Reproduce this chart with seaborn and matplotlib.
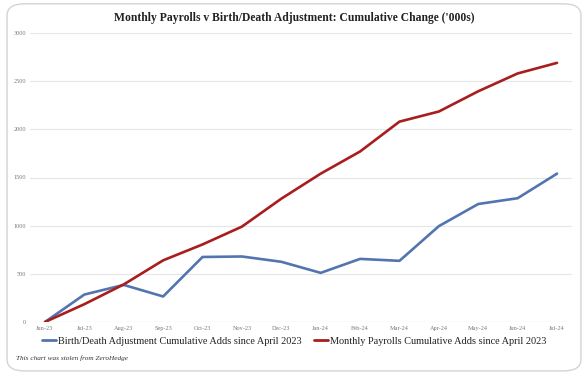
import numpy as np
import pandas as pd
import matplotlib
matplotlib.use("Agg")
import matplotlib.pyplot as plt
import seaborn as sns
from matplotlib.patches import FancyBboxPatch

# data
months = ["Jun-23", "Jul-23", "Aug-23", "Sep-23", "Oct-23", "Nov-23", "Dec-23",
          "Jan-24", "Feb-24", "Mar-24", "Apr-24", "May-24", "Jun-24", "Jul-24"]
birth_death = [0, 285, 385, 265, 675, 680, 625, 510, 655, 635, 995, 1225, 1285, 1540]
payrolls = [0, 185, 390, 640, 805, 990, 1280, 1540, 1770, 2080, 2185, 2395, 2580, 2690]

bd_label = "Birth/Death Adjustment Cumulative Adds since April 2023"
pr_label = "Monthly Payrolls Cumulative Adds since April 2023"

df = pd.DataFrame({
    "x": list(range(len(months))) * 2,
    "value": birth_death + payrolls,
    "series": [bd_label] * len(months) + [pr_label] * len(months),
})

sns.set_style("white")
plt.rcParams['font.family'] = ['Liberation Serif', 'DejaVu Serif']

fig = plt.figure(figsize=(5.88, 3.82), dpi=100)

# rounded frame around the whole chart
frame = FancyBboxPatch((0.012, 0.029), 0.976, 0.961, boxstyle="round,pad=0,rounding_size=0.03",
                       transform=fig.transFigure, facecolor="white", edgecolor="#d4d4d4",
                       linewidth=1.0, zorder=-5)
fig.patches.append(frame)

ax = fig.add_axes([30 / 588, 1 - 322 / 382, 542 / 588, 289 / 382])
ax.set_facecolor("none")
ax.set_zorder(2)

sns.lineplot(data=df, x="x", y="value", hue="series",
             palette={bd_label: "#5275b0", pr_label: "#a81d1d"},
             linewidth=1.9, ax=ax, legend=False)

ax.set_xlim(-0.38, len(months) - 1 + 0.38)
ax.set_ylim(0, 3000)
ax.set_yticks(np.arange(0, 3001, 500))
ax.set_xticks(range(len(months)))
ax.set_xticklabels(months)
ax.tick_params(axis="both", labelsize=4.5, colors="#7a7a7a", length=0, pad=3)
ax.set_xlabel("")
ax.set_ylabel("")
ax.grid(axis="y", color="#e6e6e6", linewidth=0.8)
for s in ax.spines.values():
    s.set_visible(False)
ax.axhline(0, color="#d9d9d9", linewidth=0.8, zorder=1)

fig.text(0.5, 0.952, "Monthly Payrolls v Birth/Death Adjustment: Cumulative Change ('000s)",
         ha="center", va="center", fontsize=8.4, fontweight="bold", color="#222222")

# legend below the axes
handles = [plt.Line2D([], [], color="#5275b0", linewidth=2.0),
           plt.Line2D([], [], color="#a81d1d", linewidth=2.0)]
fig.legend(handles, [bd_label, pr_label], loc="center", bbox_to_anchor=(0.5, 1 - 341 / 382),
           ncol=2, frameon=False, fontsize=7.4, handlelength=1.4, handletextpad=0.15,
           columnspacing=1.2, labelcolor="#222222")

fig.text(0.028, 1 - 358 / 382, "This chart was stolen from ZeroHedge", fontsize=5.2,
         fontstyle="italic", color="#333333", va="center")

fig.savefig("out.png", dpi=100)
